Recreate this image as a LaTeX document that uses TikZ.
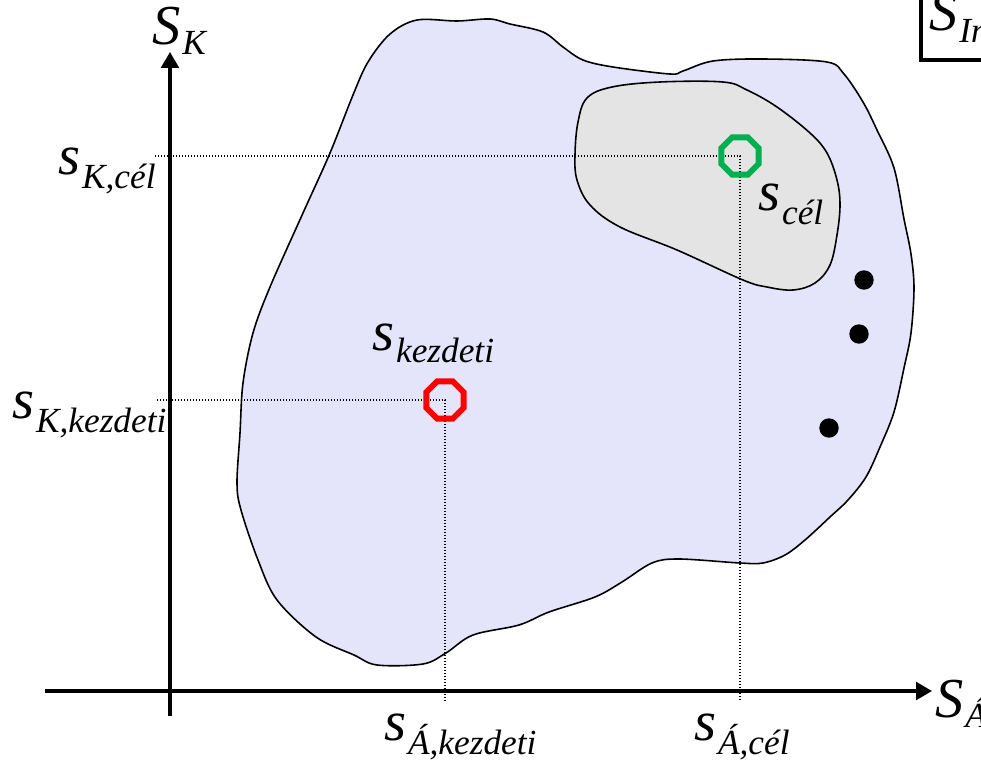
\documentclass[tikz,border=0pt]{standalone}
\usepackage{fontspec}
\setmainfont{Liberation Serif}
\usetikzlibrary{arrows.meta,shapes.geometric}
\newcommand\mylab[3][8pt]{{\fontsize{32}{32}\selectfont #2}\kern1pt\raisebox{-#1}{\fontsize{20}{20}\selectfont #3}}
\begin{document}
\begin{tikzpicture}[x=0.5669pt,y=-0.5669pt,
  axis/.style={line width=1.8pt,-{Triangle[length=9pt,width=10pt]}},
  guide/.style={line width=0.7pt,dash pattern=on 0.8pt off 0.9pt},
  region/.style={draw=black,line width=0.9pt},
  marker/.style={regular polygon,regular polygon sides=8,minimum size=23pt,inner sep=0pt,line width=3.4pt,draw},
  lbl/.style={anchor=base west,inner sep=0pt,font=\itshape},
  dot/.style={circle,fill=black,minimum size=11pt,inner sep=0pt}]
\useasboundingbox (0,0) rectangle (981,762);
\definecolor{blobfill}{RGB}{228,228,251}
\definecolor{goalfill}{RGB}{228,228,228}
\definecolor{goalgreen}{RGB}{0,176,80}
% state space region
\draw[region,fill=blobfill] plot[smooth cycle,tension=0.55] coordinates {
 (417,20) (457,21) (490,19) (510,24) (543,32) (563,47) (583,60) (613,67) (670,74) (683,71) (713,61) (763,59) (827,62)
 (844,74) (863,102) (877,130) (894,168) (904,219) (911,254) (914,288) (911,333) (904,368) (894,412) (880,447) (866,477)
 (848,500) (830,517) (805,540) (785,555) (763,563) (740,563) (679,559) (652,563) (622,582) (595,597) (549,612) (519,625)
 (473,635) (446,653) (423,664) (377,665) (354,655) (316,637) (277,600) (258,560) (241,510) (237,483) (240,433) (243,383)
 (253,333) (270,287) (303,213) (330,153) (353,95) (368,62) (390,34)};
% goal region
\draw[region,fill=goalfill] plot[smooth cycle,tension=0.6] coordinates {
 (587,98) (612,87) (660,82) (723,82) (747,90) (777,107) (810,133) (827,153) (837,180) (840,205) (837,235) (830,265)
 (815,283) (793,290) (767,287) (743,280) (677,250) (620,227) (590,205) (577,180) (575,155) (578,122)};
% markers positions
\coordinate (gc) at (740,156);
\coordinate (sc) at (445,400);
\coordinate (gy) at (155,156);
\coordinate (gx) at (740,700);
\coordinate (sy) at (157,400);
\coordinate (sx) at (445,700);
\draw[guide] (gy) -- (gc) -- (gx);
\draw[guide] (sy) -- (sc) -- (sx);
\node[marker,draw=goalgreen] (goal) at (gc) {};
\node[marker,draw=red] (start) at (sc) {};
% other states
\node[dot] (d1) at (864,280) {};
\node[dot] (d2) at (859,334) {};
\node[dot] (d3) at (829,428) {};
% axes
\coordinate (ybot) at (170,716);
\coordinate (ytop) at (170,52);
\coordinate (xleft) at (45,691);
\coordinate (xright) at (932,691);
\draw[axis] (ybot) -- (ytop);
\draw[axis] (xleft) -- (xright);
% labels
\node[lbl] (lSK) at (152,45) {\mylab[5.5pt]{S}{K}};
\node[lbl] (lSA) at (935,717) {\mylab[6pt]{S}{Á}};
\node[lbl] (lKcel) at (58,174) {\mylab{s}{K,cél}};
\node[lbl] (lKkezd) at (12,418) {\mylab{s}{K,kezdeti}};
\node[lbl] (lkezd) at (372,350) {\mylab[7pt]{s}{kezdeti}};
\node[lbl] (lcel) at (758,210) {\mylab[8.5pt]{s}{cél}};
\node[lbl] (lAkezd) at (384,740) {\mylab{s}{Á,kezdeti}};
\node[lbl] (lAcel) at (694,740) {\mylab{s}{Á,cél}};
% init box (cut off at right edge)
\node[lbl,anchor=base west] (lInit) at (929,30) {\mylab[7pt]{S}{Ini}};
\draw[line width=1.8pt] (1010,-5) -- (921,-5) -- (921,60) -- (1010,60);
\end{tikzpicture}
\end{document}
